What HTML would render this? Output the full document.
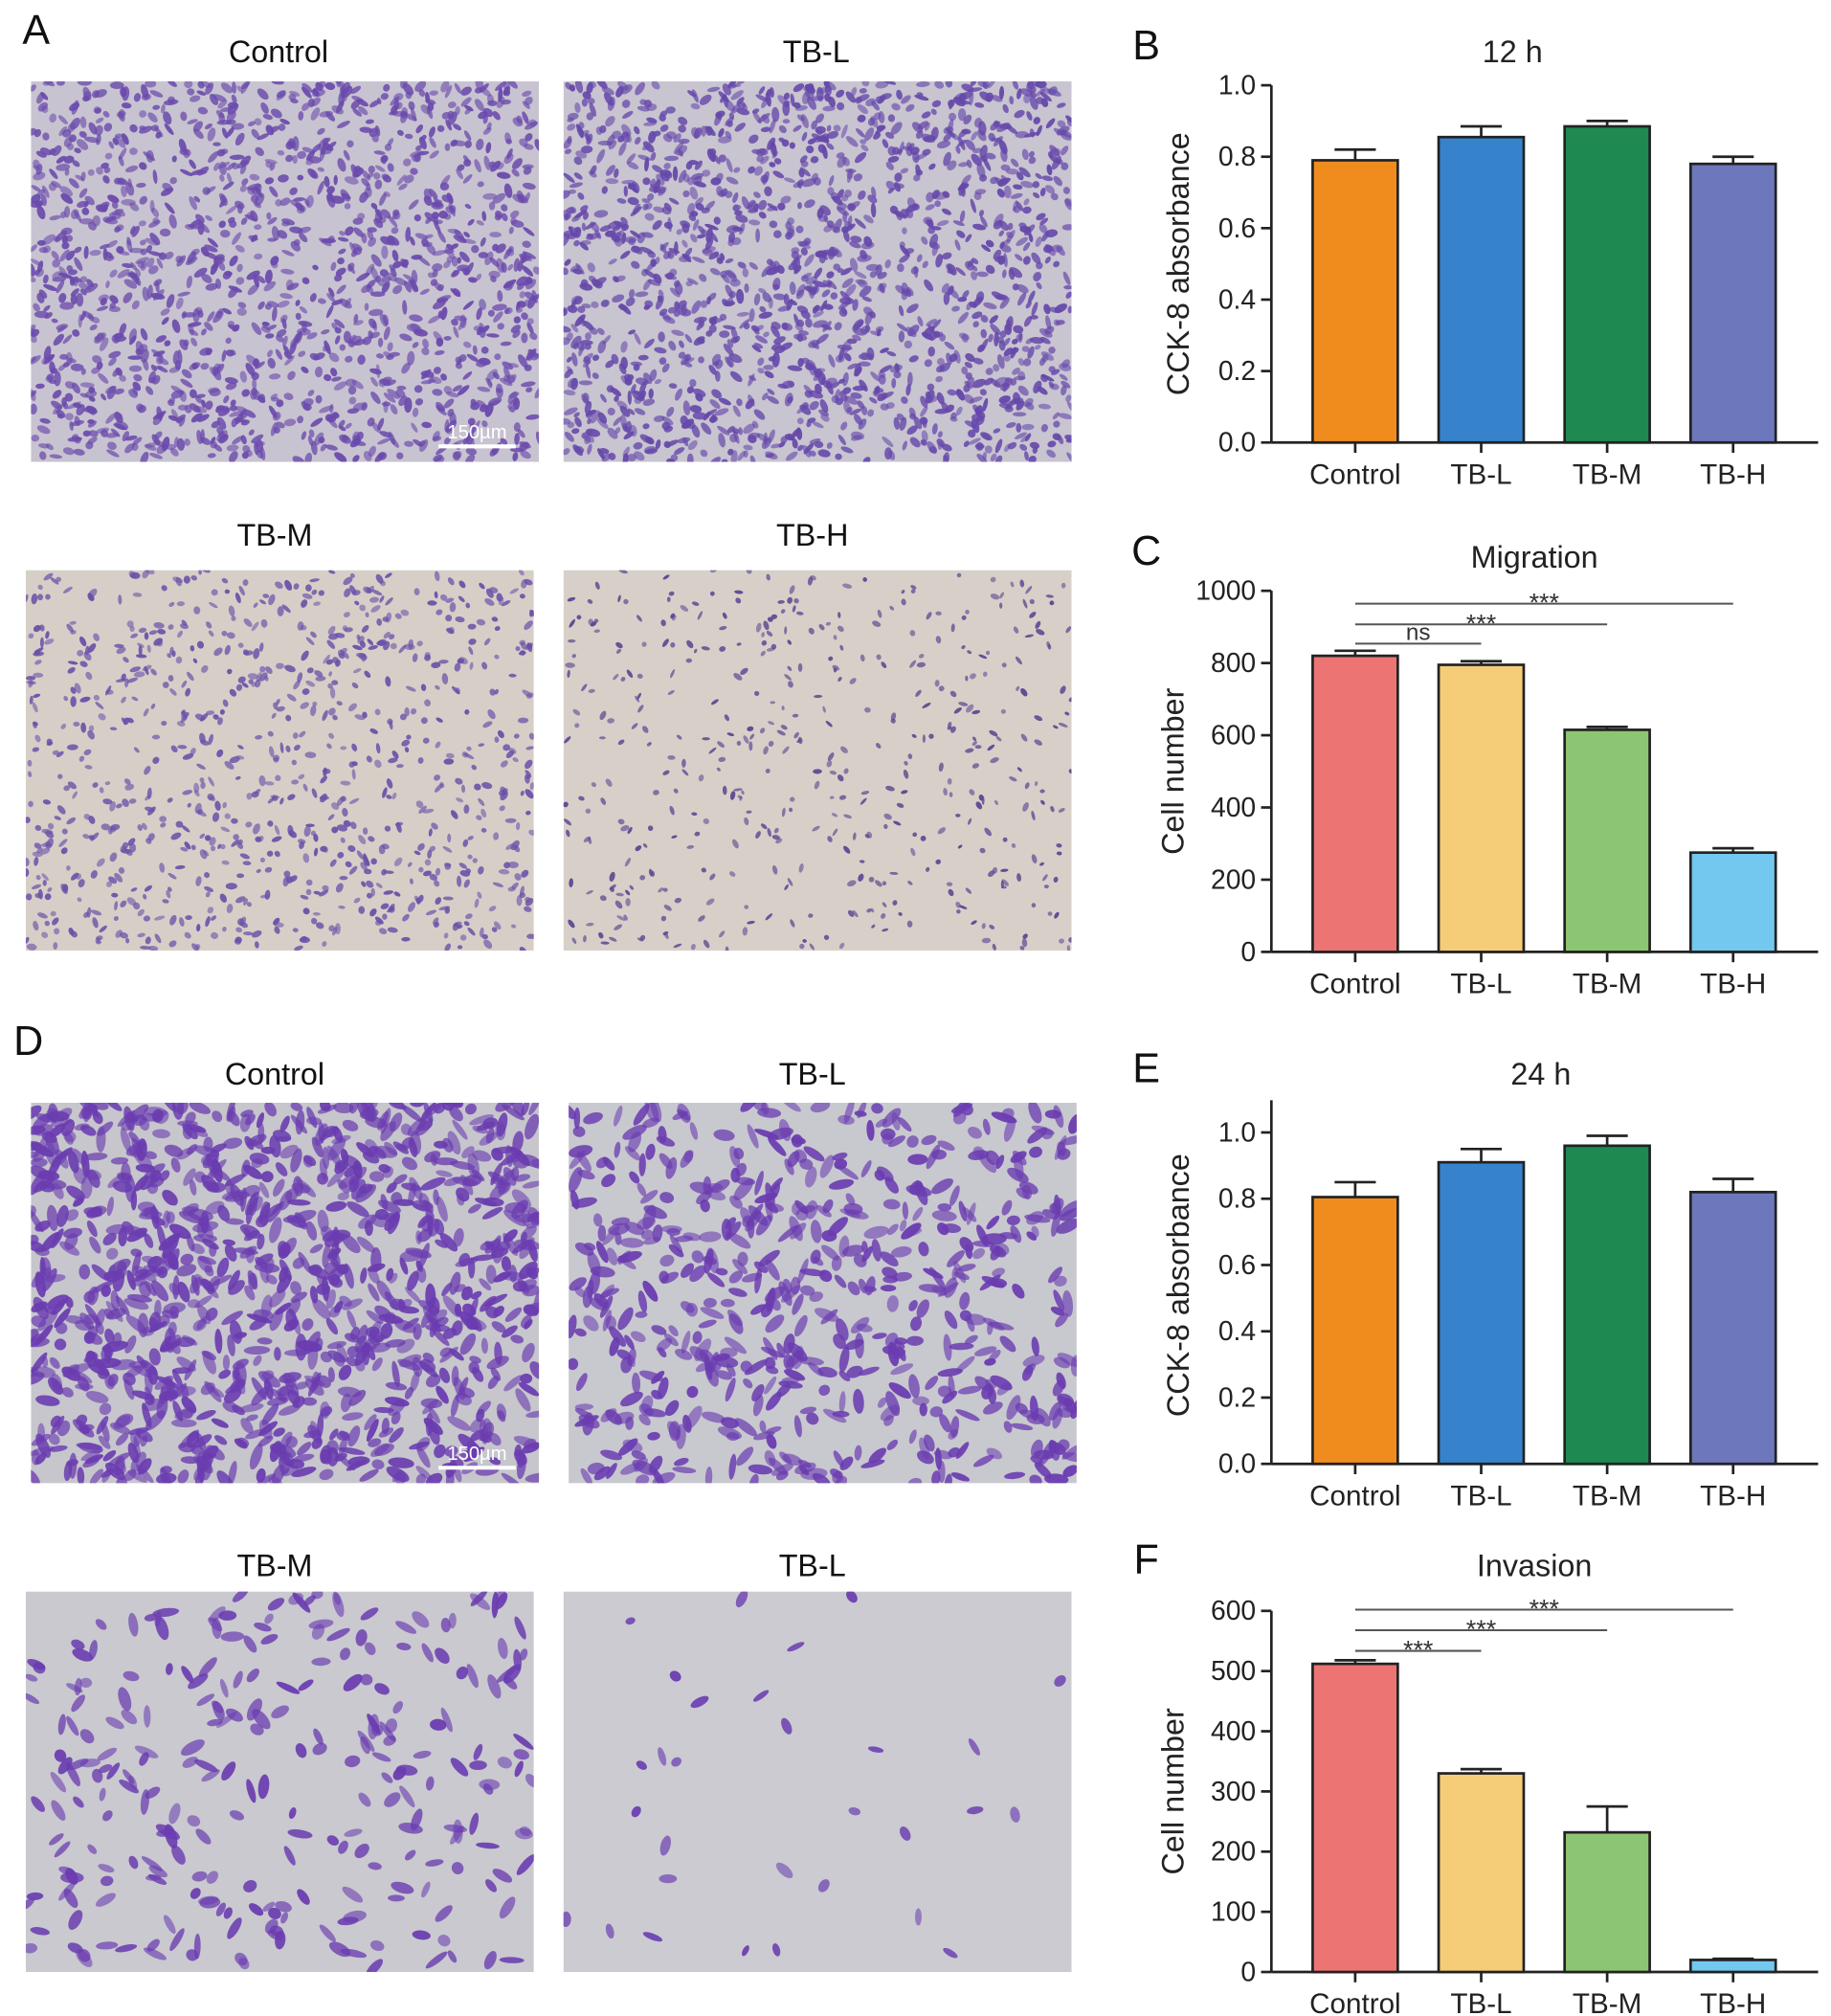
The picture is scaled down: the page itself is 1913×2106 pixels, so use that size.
<!DOCTYPE html>
<html><head><meta charset="utf-8"><style>
html,body{margin:0;padding:0;background:#fff;}
svg{display:block;font-family:"Liberation Sans",Arial,sans-serif;}
</style></head><body>
<svg id="fig" width="1913" height="2106" viewBox="0 0 1420 1563" xmlns="http://www.w3.org/2000/svg">
<defs id="defs"></defs>
<g id="micro"></g>
<g id="charts"></g>
</svg>
<script>
// ---- chart data ----
const categories = ["Control","TB-L","TB-M","TB-H"];
const b12Values = [0.79,0.855,0.885,0.78];
const b12Errors = [0.03,0.03,0.015,0.02];
const migValues = [820,795,615,275];
const migErrors = [14,10,8,12];
const e24Values = [0.805,0.91,0.96,0.82];
const e24Errors = [0.045,0.04,0.03,0.04];
const invValues = [512,330,232,20];
const invErrors = [6,7,43,2];
const absTicks = ["0.0","0.2","0.4","0.6","0.8","1.0"];
const migTicks = ["0","200","400","600","800","1000"];
const invTicks = ["0","100","200","300","400","500","600"];
const migSig = ["ns","***","***"];
const invSig = ["***","***","***"];
const absColors = ["#f08c1e","#3683cc","#1e8a52","#6c78bb"];
const cellColors = ["#ec7574","#f5cd78","#8dc672","#72c8ee"];

const NS="http://www.w3.org/2000/svg";
function mk(tag,attrs,parent,text){const e=document.createElementNS(NS,tag);for(const k in attrs)e.setAttribute(k,attrs[k]);if(text!==undefined)e.textContent=text;parent.appendChild(e);return e;}

// ---- micrographs (texture only) ----
let seed=12345;function rnd(){seed=(seed*1103515245+12345)%2147483648;return seed/2147483648;}
const micro=document.getElementById('micro');
const defs=document.getElementById('defs');
let clipN=0;
function micrograph(name,x,y,w,h,bg,n,rx,ry,col,scale){
  const id='clip'+(clipN++);
  const cp=mk('clipPath',{id:id},defs);mk('rect',{x:x,y:y,width:w,height:h},cp);
  const g=mk('g',{'clip-path':`url(#${id})`},micro);
  
  
  mk('rect',{x:x,y:y,width:w,height:h,fill:bg},g);
  for(let i=0;i<n;i++){const cx=x+rnd()*w,cy=y+rnd()*h;const a=rx*(0.6+rnd()*0.8),b=ry*(0.6+rnd()*0.6);
    mk('ellipse',{cx:cx.toFixed(1),cy:cy.toFixed(1),rx:a.toFixed(1),ry:b.toFixed(1),fill:col,opacity:(0.55+rnd()*0.4).toFixed(2),transform:`rotate(${(rnd()*180).toFixed(0)} ${cx.toFixed(1)} ${cy.toFixed(1)})`},g);}
  if(scale){mk('line',{x1:x+w-78,y1:y+h-12,x2:x+w-18,y2:y+h-12,stroke:'#fff','stroke-width':3},g);
    const t=mk('text',{x:x+w-48,y:y+h-18,'text-anchor':'middle','font-size':15,fill:'#fff'},g,'150µm');
    }
}
function label(txt,x,y,size,name){const t=mk('text',{x:x,y:y,'font-size':size,'text-anchor':'middle',fill:'#111'},document.getElementById('charts'),txt);
  return t;}
micrograph('micrograph-a-control',24,63,394,295,'#c8c3d0',1500,4.2,2.6,'#6a4aac',true);
micrograph('micrograph-a-tbl',437,63,394,295,'#c8c4d0',1600,4.2,2.6,'#6548aa',false);
micrograph('micrograph-a-tbm',20,442,394,295,'#d6cfc8',900,3.2,2.2,'#6b50a8',false);
micrograph('micrograph-a-tbh',437,442,394,295,'#d7d0c9',450,2.8,1.8,'#5a4690',false);
micrograph('micrograph-d-control',24,855,394,295,'#c6c6cc',1100,7.5,3.8,'#6a3cb0',true);
micrograph('micrograph-d-tbl',441,855,394,295,'#c8c8cf',620,7.5,3.8,'#6a3cb0',false);
micrograph('micrograph-d-tbm',20,1234,394,295,'#c9c9cf',260,7.5,3.8,'#6a3cb0',false);
micrograph('micrograph-d-tbl2',437,1234,394,295,'#cbcbd1',30,6,3.5,'#6a3cb0',false);
label('A',28,34,32,'panel-label-a');label('D',22,818,32,'panel-label-d');
[['Control',216,48],['TB-L',633,48],['TB-M',213,423],['TB-H',630,423],['Control',213,841],['TB-L',630,841],['TB-M',213,1222],['TB-L',630,1222]].forEach(a=>label(a[0],a[1],a[2],24,'micrograph-title'));

// ---- bar charts ----
function chart(o){
  const g=mk('g',{},document.getElementById('charts'));
  
  
  const x0=986,x1=1410;
  const y=v=>o.yBot-(v-o.min)/(o.max-o.min)*(o.yBot-o.yTop);
  const bx=i=>1051+97.7*i;
  mk('line',{x1:x0,y1:o.axisTop,x2:x0,y2:o.yBot,stroke:'#222','stroke-width':2},g);
  mk('line',{x1:x0,y1:o.yBot,x2:x1,y2:o.yBot,stroke:'#222','stroke-width':2},g);
  o.ticks.forEach((t,i)=>{const v=o.min+i*(o.max-o.min)/(o.ticks.length-1);const yy=y(v);
    mk('line',{x1:x0-8,y1:yy,x2:x0,y2:yy,stroke:'#222','stroke-width':2},g);
    const tt=mk('text',{x:x0-12,y:yy+7,'font-size':21,'text-anchor':'end',fill:'#222'},g,t);
    });
  o.values.forEach((v,i)=>{const cx=bx(i),w=66;
    mk('line',{x1:cx,y1:y(v+o.errors[i]),x2:cx,y2:y(v),stroke:'#222','stroke-width':2},g);
    mk('line',{x1:cx-16,y1:y(v+o.errors[i]),x2:cx+16,y2:y(v+o.errors[i]),stroke:'#222','stroke-width':2},g);
    const r=mk('rect',{x:cx-w/2,y:y(v),width:w,height:o.yBot-y(v),fill:o.colors[i],stroke:'#222','stroke-width':2},g);
    
    mk('line',{x1:cx,y1:o.yBot,x2:cx,y2:o.yBot+8,stroke:'#222','stroke-width':2},g);
    const tl=mk('text',{x:cx,y:o.yBot+32,'font-size':22,'text-anchor':'middle',fill:'#222'},g,categories[i]);
    });
  const yt=mk('text',{x:0,y:0,'font-size':24,'text-anchor':'middle',fill:'#222',transform:`translate(${o.ylx},${(o.yTop+o.yBot)/2+(o.ylOff||0)}) rotate(-90)`},g,o.ylabel);
  
  const ti=mk('text',{x:o.tx,y:o.ty,'font-size':24,'text-anchor':'middle',fill:'#222'},g,o.title);
  
  const pl=mk('text',{x:889,y:o.ty-2,'font-size':32,'text-anchor':'middle',fill:'#111'},g,o.letter);
  
  if(o.sig){o.sig.forEach((s,k)=>{const ly=o.sigY[k];const xe=bx(k+1);
    mk('line',{x1:bx(0),y1:ly,x2:xe,y2:ly,stroke:'#555','stroke-width':1.5},g);
    const st=mk('text',{x:(bx(0)+xe)/2,y:ly-(s==='ns'?3:-6),'font-size':s==='ns'?18:20,'text-anchor':'middle',fill:'#333'},g,s);
    });}
}
chart({name:'chart-b-12h',letter:'B',title:'12 h',tx:1173,ty:48,min:0,max:1,yTop:66,yBot:343,axisTop:66,ticks:absTicks,values:b12Values,errors:b12Errors,colors:absColors,ylabel:'CCK-8 absorbance',ylx:922});
chart({name:'chart-c-migration',letter:'C',title:'Migration',tx:1190,ty:440,min:0,max:1000,yTop:458,yBot:738,axisTop:458,ticks:migTicks,values:migValues,errors:migErrors,colors:cellColors,ylabel:'Cell number',ylx:918,sig:migSig,sigY:[499,484,468]});
chart({name:'chart-e-24h',letter:'E',title:'24 h',tx:1195,ty:841,min:0,max:1,yTop:878,yBot:1135,axisTop:853,ticks:absTicks,values:e24Values,errors:e24Errors,colors:absColors,ylabel:'CCK-8 absorbance',ylx:922,ylOff:-10});
chart({name:'chart-f-invasion',letter:'F',title:'Invasion',tx:1190,ty:1222,min:0,max:600,yTop:1249,yBot:1529,axisTop:1249,ticks:invTicks,values:invValues,errors:invErrors,colors:cellColors,ylabel:'Cell number',ylx:918,sig:invSig,sigY:[1280,1264,1248]});
</script>
</body></html>
